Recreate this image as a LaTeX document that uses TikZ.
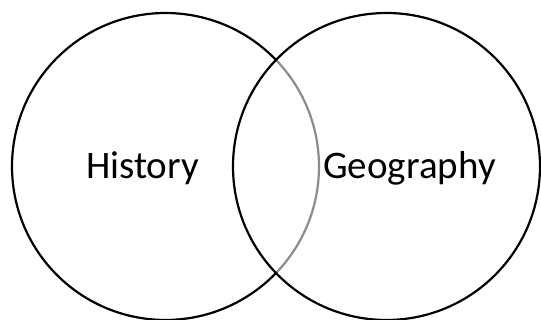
\documentclass[tikz,border=0pt]{standalone}
\usepackage{fontspec}
\setmainfont{Carlito}
\begin{document}
\begin{tikzpicture}[x=1pt,y=1pt,
  ring/.style={line width=2.2pt,draw=black},
  inner/.style={line width=2.2pt,draw=gray!90},
  lbl/.style={font=\fontsize{39}{44}\selectfont,inner sep=0pt,anchor=base}]
\useasboundingbox (0,0) rectangle (541,320);
\coordinate (L) at (165.5,153.5);
\coordinate (R) at (386.5,153.5);
\draw[ring] (L) ++(43.9:153.5) arc[start angle=43.9,end angle=316.1,radius=153.5];
\draw[inner] (L) ++(-43.9:153.5) arc[start angle=-43.9,end angle=43.9,radius=153.5];
\draw[ring] (R) circle[radius=153.5];
\node[lbl] (hist) at (142.5,141) {History};
\node[lbl] (geo) at (409.5,141) {Geography};
\end{tikzpicture}
\end{document}
